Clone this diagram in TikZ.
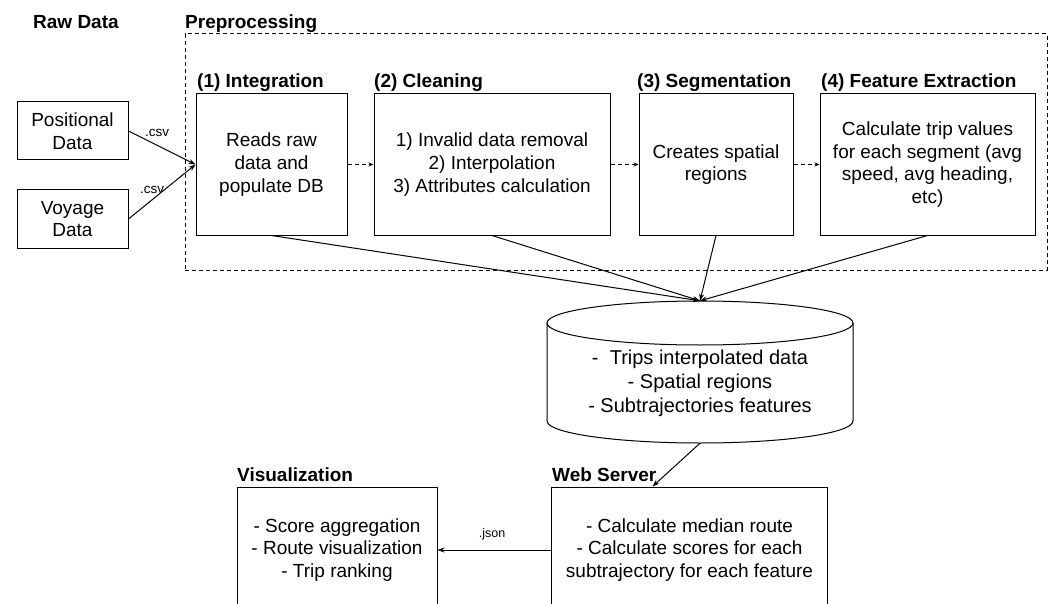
\documentclass[tikz,border=0pt]{standalone}
\usepackage{fontspec}
\setmainfont{Liberation Sans}
\usetikzlibrary{arrows.meta}
\begin{document}
\begin{tikzpicture}[x=1pt,y=-1pt,
  box/.style={draw, line width=1pt, align=center, font=\fontsize{19}{22.7}\selectfont, inner sep=0pt},
  lbl/.style={anchor=base west, inner sep=0pt, font=\fontsize{19}{22}\selectfont\bfseries},
  small/.style={inner sep=0pt, font=\fontsize{13.5}{15}\selectfont},
  conn/.style={line width=1pt, -{Stealth[length=7pt,width=5pt]}},
  dconn/.style={line width=1pt, dash pattern=on 4pt off 3pt, -{Stealth[length=5pt,width=4pt]}},
  frame/.style={draw, line width=1pt, dash pattern=on 4pt off 3pt, inner sep=0pt},
]
\path[use as bounding box] (0,0) rectangle (1049,604);
\clip (0,0) rectangle (1049,604);
\fill[white] (0,0) rectangle (1049,604);

% preprocessing frame
\node[frame, minimum width=862pt, minimum height=236pt] (pre) at (616,152) {};

% labels
\node[lbl] (lraw) at (33,28.5) {Raw Data};
\node[lbl] (lpre) at (185,28.5) {Preprocessing};
\node[lbl] (lint) at (197,87.5) {(1) Integration};
\node[lbl] (lcln) at (374,87.5) {(2) Cleaning};
\node[lbl] (lseg) at (637,87.5) {(3) Segmentation};
\node[lbl] (lfea) at (821,87.5) {(4) Feature Extraction};
\node[lbl] (lvis) at (237,481.5) {Visualization};
\node[lbl] (lweb) at (552,481.5) {Web Server};

% input boxes
\node[box, minimum width=111pt, minimum height=58pt] (pos) at (72.5,131) {Positional\\Data};
\node[box, minimum width=111pt, minimum height=58pt] (voy) at (72.5,219) {Voyage\\Data};

% stage boxes
\node[box, minimum width=151pt, minimum height=141pt] (int) at (271.5,164.5) {Reads raw\\data and\\populate DB};
\node[box, minimum width=236pt, minimum height=141pt] (cln) at (492,164.5) {1) Invalid data removal\\2) Interpolation\\3) Attributes calculation};
\node[box, minimum width=154pt, minimum height=141pt] (seg) at (716,164.5) {Creates spatial\\regions};
\node[box, minimum width=215pt, minimum height=141pt] (fea) at (927.5,164.5) {Calculate trip values\\for each segment (avg\\speed, avg heading,\\etc)};

% database
\node[minimum width=306pt, minimum height=142pt, inner sep=0pt] (db) at (700,372) {};
\draw[line width=1pt] (700,323) ellipse [x radius=153, y radius=22];
\draw[line width=1pt] (547,323) -- (547,421) .. controls (547,433.15) and (615.5,443) .. (700,443) .. controls (784.5,443) and (853,433.15) .. (853,421) -- (853,323);
\node[align=center, inner sep=0pt, font=\fontsize{20}{23.8}\selectfont] (dbt) at (700,383.5) {-\ \ Trips interpolated data\\- Spatial regions\\- Subtrajectories features};

% bottom boxes
\node[box, minimum width=200pt, minimum height=126pt] (vis) at (337,550) {- Score aggregation\\- Route visualization\\- Trip ranking};
\node[box, minimum width=276pt, minimum height=126pt] (web) at (689.5,550) {- Calculate median route\\- Calculate scores for each\\subtrajectory for each feature};

% connectors
\draw[conn] (pos.east) -- (int.west);
\draw[conn] (voy.east) -- (int.west);
\node[small] (csv1) at (157,133) {.csv};
\node[small] (csv2) at (152,190) {.csv};

\draw[dconn] (int) -- (cln);
\draw[dconn] (cln) -- (seg);
\draw[dconn] (seg) -- (fea);

\draw[conn] (int.south) -- (db.north);
\draw[conn] (cln.south) -- (db.north);
\draw[conn] (seg.south) -- (db.north);
\draw[conn] (fea.south) -- (db.north);

\draw[conn] (db.south) -- ([xshift=-37pt]web.north);
\draw[conn] (web.west) -- (vis.east);
\node[inner sep=0pt, font=\fontsize{12.5}{14}\selectfont] (json) at (492,534) {.json};
\end{tikzpicture}
\end{document}
